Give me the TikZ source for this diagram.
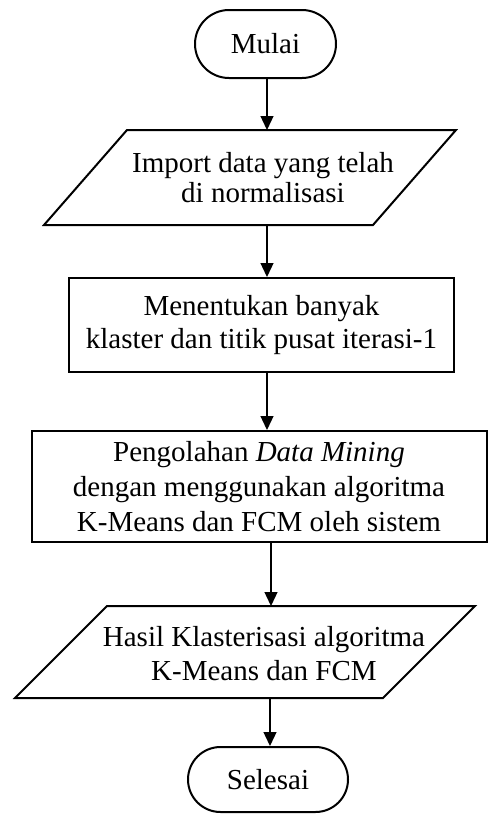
\documentclass[tikz,border=0pt]{standalone}
\usepackage{fontspec}
\setmainfont{Liberation Serif}
\usetikzlibrary{arrows.meta,shapes.misc}

\tikzset{
  outline/.style={draw=black, line width=2pt},
  termbox/.style={outline, rounded rectangle, inner sep=0pt},
  procbox/.style={outline, rectangle, inner sep=0pt, align=center},
  label/.style={align=center, inner sep=0pt},
  arr/.style={draw=black, line width=1.3pt, -{Triangle[width=13pt,length=14pt]}},
}

\begin{document}
\begin{tikzpicture}[x=1pt, y=-1pt, font=\fontsize{29}{33}\selectfont]
  \useasboundingbox (0,0) rectangle (488,814);

  % start terminator
  \node[termbox, minimum width=141pt, minimum height=68pt] (mulai) at (265.5,44) {Mulai};

  % input: normalised data
  \draw[outline] (127,130) -- (456,130) -- (373,225) -- (44,225) -- cycle;
  \coordinate (p1n) at (267,130);
  \coordinate (p1s) at (267,225);
  \node[label, font=\fontsize{29}{30}\selectfont] (import) at (263,178) {Import data yang telah\\di normalisasi};

  % cluster count and initial centroids
  \node[procbox, minimum width=385pt, minimum height=94pt] (klaster) at (261.5,325)
    {Menentukan banyak\\klaster dan titik pusat iterasi-1};

  % data mining process
  \node[procbox, minimum width=455pt, minimum height=111pt, font=\fontsize{29}{35}\selectfont] (mining) at (259,486.5)
    {Pengolahan \textit{Data Mining}\\dengan menggunakan algoritma\\K-Means dan FCM oleh sistem};

  % output: clustering result
  \draw[outline] (107,606) -- (475,606) -- (383,698) -- (15,698) -- cycle;
  \coordinate (p2n) at (271,606);
  \coordinate (p2s) at (270,698);
  \node[label, font=\fontsize{29}{34}\selectfont] (hasil) at (264,654) {Hasil Klasterisasi algoritma\\K-Means dan FCM};

  % end terminator
  \node[termbox, minimum width=160pt, minimum height=65pt] (selesai) at (268,779.5) {Selesai};

  % flow
  \draw[arr] (mulai.south -| p1n) -- (p1n);
  \draw[arr] (p1s) -- (klaster.north -| p1s);
  \draw[arr] (klaster.south -| p1s) -- (mining.north -| p1s);
  \draw[arr] (mining.south -| p2n) -- (p2n);
  \draw[arr] (p2s) -- (selesai.north -| p2s);
\end{tikzpicture}
\end{document}
